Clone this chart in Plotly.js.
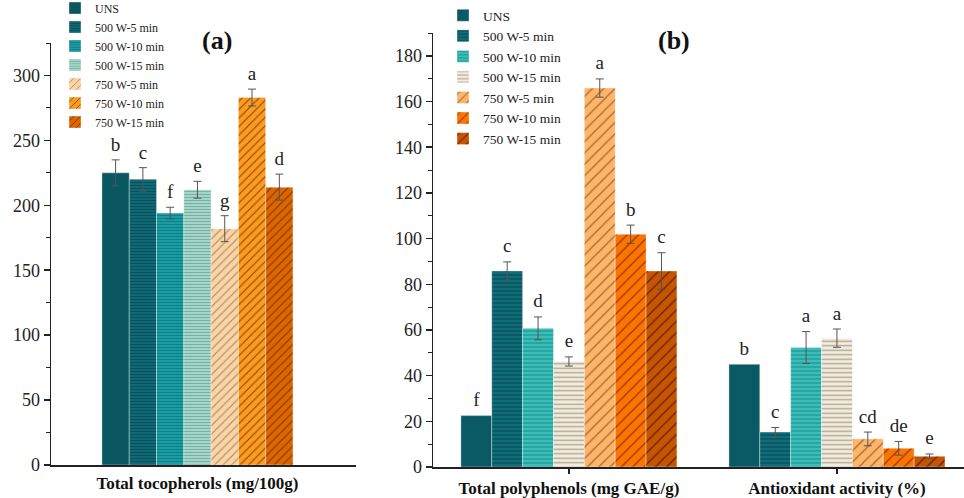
<!DOCTYPE html>
<html>
<head>
<meta charset="utf-8">
<script src="https://cdn.plot.ly/plotly-3.0.1.min.js"></script>
<style>html,body{margin:0;padding:0;background:#fff;}#chart{width:964px;height:498px;}</style>
</head>
<body>
<div id="chart"></div>
<script>
// ---- data ----
const seriesNames = ['UNS','500 W-5 min','500 W-10 min','500 W-15 min','750 W-5 min','750 W-10 min','750 W-15 min'];
const groupsA = ['Total tocopherols (mg/100g)'];
const groupsB = ['Total polyphenols (mg GAE/g)', 'Antioxidant activity (%)'];
const tocoVals = [225, 220, 194, 212, 182, 283, 214];
const tocoErr = [10, 9, 4.5, 6.5, 10, 6.5, 10];
const tocoLetters = ['b','c','f','e','g','a','d'];
const polyVals = [22.5, 85.8, 60.7, 46.2, 165.9, 101.9, 85.8];
const polyErr = [0, 4, 5, 2, 4, 4, 8];
const polyLetters = ['f','c','d','e','a','b','c'];
const antiVals = [45.0, 15.3, 52.3, 56.4, 12.3, 8.2, 4.7];
const antiErr = [0, 2, 7, 4, 3, 3, 1];
const antiLetters = ['b','c','a','a','cd','de','e'];

// ---- styles ----
const stylesA = [
  {bg:'#0a5661', fg:'#0a5661', shape:'', size:4, sol:0.3},
  {bg:'#0f6a77', fg:'#08505b', shape:'-', size:3, sol:0.4},
  {bg:'#1a9fa5', fg:'#0e7f87', shape:'-', size:3, sol:0.4},
  {bg:'#a9d9cd', fg:'#7ab0a4', shape:'-', size:3, sol:0.4},
  {bg:'#fdd3a0', fg:'#9c8a78', shape:'/', size:6, sol:0.18},
  {bg:'#ff9a1f', fg:'#7a4a10', shape:'/', size:6, sol:0.18},
  {bg:'#dd6600', fg:'#7a3600', shape:'/', size:6, sol:0.18}
];
const stylesB = [
  {bg:'#0a5a66', fg:'#0a5a66', shape:'', size:4, sol:0.3},
  {bg:'#0f6d7a', fg:'#08505b', shape:'-', size:4, sol:0.35},
  {bg:'#3dbcb8', fg:'#1a9895', shape:'-', size:4, sol:0.3},
  {bg:'#f1ece0', fg:'#b3a48c', shape:'-', size:4.5, sol:0.3},
  {bg:'#ffb466', fg:'#9a6a40', shape:'/', size:8, sol:0.15},
  {bg:'#ff7300', fg:'#8a3c00', shape:'/', size:8, sol:0.15},
  {bg:'#c75400', fg:'#5a2400', shape:'/', size:8, sol:0.15}
];

const serif = '"Liberation Serif", "Times New Roman", serif';
const traces = [];
seriesNames.forEach((name, i) => {
  const sA = stylesA[i], sB = stylesB[i];
  const errA = [tocoErr[i]], errB = [polyErr[i], antiErr[i]];
  traces.push({
    type:'bar', name:name, x:groupsA, y:[tocoVals[i]], xaxis:'x', yaxis:'y',
    legend:'legend',
    marker:{color:sA.bg, line:{color:'rgba(255,255,255,0.45)', width:0.8},
      pattern:{shape:sA.shape, bgcolor:sA.bg, fgcolor:sA.fg, size:sA.size, solidity:sA.sol, fillmode:'replace'}},
    error_y:{type:'data', array:errA, visible:errA.some(e => e > 0), color:'#555', thickness:1, width:4},
    hoverinfo:'skip'
  });
  traces.push({
    type:'bar', name:name, x:groupsB, y:[polyVals[i], antiVals[i]], xaxis:'x2', yaxis:'y2',
    legend:'legend2',
    marker:{color:sB.bg, line:{color:'rgba(255,255,255,0.45)', width:0.8},
      pattern:{shape:sB.shape, bgcolor:sB.bg, fgcolor:sB.fg, size:sB.size, solidity:sB.sol, fillmode:'replace'}},
    error_y:{type:'data', array:errB, visible:errB.some(e => e > 0), color:'#555', thickness:1, width:4},
    hoverinfo:'skip'
  });
});
const letterFont = {family:serif, size:19, color:'#222'};
seriesNames.forEach((name, i) => {
  traces.push({
    type:'scatter', mode:'markers+text', x:groupsA, y:[tocoVals[i] + tocoErr[i]], text:[tocoLetters[i]],
    marker:{size:5, opacity:0}, textposition:'top center', textfont:letterFont,
    xaxis:'x', yaxis:'y', showlegend:false, hoverinfo:'skip', cliponaxis:false
  });
  traces.push({
    type:'scatter', mode:'markers+text', x:groupsB, y:[polyVals[i] + polyErr[i], antiVals[i] + antiErr[i]],
    text:[polyLetters[i], antiLetters[i]],
    marker:{size:6, opacity:0}, textposition:'top center', textfont:letterFont,
    xaxis:'x2', yaxis:'y2', showlegend:false, hoverinfo:'skip', cliponaxis:false
  });
});

const yBase = {
  showgrid:false, zeroline:false, showline:true, linecolor:'#222', linewidth:1.5,
  ticks:'outside', ticklen:6, tickwidth:1.5, tickcolor:'#222',
  tickfont:{family:serif, size:18, color:'#222'},
  minor:{ticks:'outside', ticklen:4, tickwidth:1, tickcolor:'#222'}
};
const xBase = {
  type:'category', showgrid:false, zeroline:false, showline:true, linecolor:'#222', linewidth:1.5,
  tickfont:{family:serif, size:17, color:'#111', weight:'bold'}
};

const layout = {
  width:964, height:498,
  margin:{l:0, r:0, t:0, b:0, autoexpand:false},
  paper_bgcolor:'#fff', plot_bgcolor:'#fff',
  barmode:'group', bargap:0.194, bargroupgap:0,
  scattermode:'group', scattergap:0.194,
  showlegend:true,
  font:{family:serif, color:'#222'},
  xaxis: Object.assign({}, xBase, {domain:[51/964, 356/964], range:[-0.618, 0.669], anchor:'y',
    ticks:'', ticklabelstandoff:2}),
  yaxis: Object.assign({}, yBase, {domain:[1-465/498, 1-43/498], range:[0, 325], dtick:50, anchor:'x',
    minor:Object.assign({}, yBase.minor, {dtick:25})}),
  xaxis2: Object.assign({}, xBase, {domain:[433/964, 1], range:[-0.507, 1.474], anchor:'y2',
    ticks:'outside', ticklen:5, tickwidth:1.5, tickcolor:'#222', ticklabelstandoff:0,
    minor:{ticks:'outside', ticklen:4, tickwidth:1, tickcolor:'#222', dtick:0.5}}),
  yaxis2: Object.assign({}, yBase, {domain:[1-467/498, 1-33/498], range:[0, 190], dtick:20, anchor:'x2',
    minor:Object.assign({}, yBase.minor, {dtick:10})}),
  legend:{x:55/964, y:1.013, xanchor:'left', yanchor:'top', bgcolor:'rgba(0,0,0,0)',
    font:{family:serif, size:12, color:'#222'}, tracegroupgap:0, itemwidth:30},
  legend2:{x:443/964, y:1.0, xanchor:'left', yanchor:'top', bgcolor:'rgba(0,0,0,0)',
    font:{family:serif, size:13.5, color:'#222'}, tracegroupgap:0, itemwidth:30},
  annotations:[
    {text:'(a)', xref:'paper', yref:'paper', x:200/964, y:1-24/498, showarrow:false,
      font:{family:serif, size:26, color:'#111', weight:'bold'}},
    {text:'(b)', xref:'paper', yref:'paper', x:692/964, y:1-24/498, showarrow:false,
      font:{family:serif, size:26, color:'#111', weight:'bold'}}
  ]
};

Plotly.newPlot('chart', traces, layout, {staticPlot:true, displayModeBar:false});
</script>
</body>
</html>
